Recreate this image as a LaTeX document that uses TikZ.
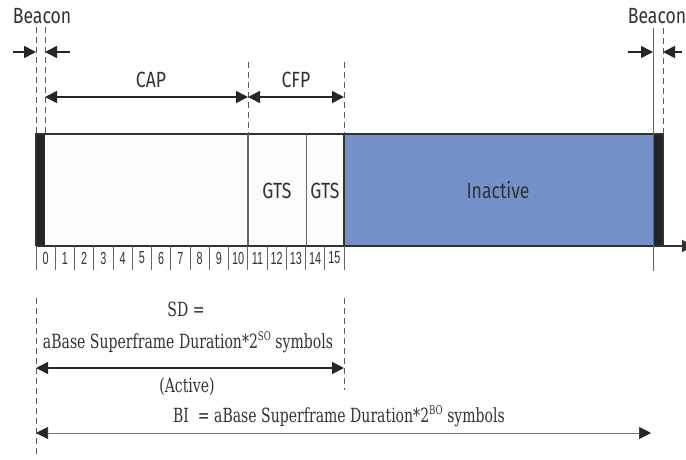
\documentclass[tikz,border=0pt]{standalone}
\usepackage{fontspec}
\usetikzlibrary{arrows.meta}

\newfontfamily\lblfont[FakeStretch=0.8]{Fira Sans}
\newfontfamily\numfont[FakeStretch=0.62]{Liberation Sans}
\newfontfamily\eqfont[FakeStretch=0.72]{DejaVu Serif}
\newcommand{\supsmall}[1]{\raisebox{0.8ex}{\fontsize{12}{12}\selectfont #1}}

\definecolor{inactblue}{RGB}{116,144,200}
\definecolor{bcnblack}{RGB}{38,38,38}
\definecolor{inkgray}{RGB}{50,50,50}

\tikzset{
  lbl/.style={font=\lblfont\fontsize{22}{22}\selectfont, text=inkgray, inner sep=0pt},
  slotnum/.style={font=\numfont\fontsize{17.5}{17.5}\selectfont, text=inkgray, inner sep=0pt},
  eqtext/.style={font=\eqfont\fontsize{19.5}{19.5}\selectfont, text=inkgray, inner sep=0pt},
  guide/.style={dashed, dash pattern=on 6pt off 4pt, line width=0.8pt, black!65},
  dimarrow/.style={line width=1.6pt, bcnblack, {Triangle[length=12pt,width=12pt]}-{Triangle[length=12pt,width=12pt]}},
  onearrow/.style={line width=1.6pt, bcnblack, -{Triangle[length=12pt,width=12pt]}},
  thinarrow/.style={line width=0.7pt, black!55, {Triangle[length=12pt,width=12pt,color=bcnblack]}-{Triangle[length=12pt,width=12pt,color=bcnblack]}},
  boxline/.style={line width=1.3pt, inkgray},
}

\begin{document}
\begin{tikzpicture}[x=1pt, y=-1pt]
    \useasboundingbox (0,0) rectangle (686,459);

    % Superframe box
    \fill[black!1] (45,134) rectangle (344,246);
    \fill[inactblue] (344,134) rectangle (653,246);
    \fill[bcnblack] (36,134) rectangle (45,246);
    \fill[bcnblack] (653,134) rectangle (663,246);
    \draw[boxline] (36,246) -- (36,134) -- (663,134) -- (663,246);
    \draw[boxline] (344,134) -- (344,246);
    \draw[line width=1.4pt, black!60] (248,134) -- (248,246);
    \draw[line width=1pt, black!60] (306,134) -- (306,246);
    \draw[boxline, -{Triangle[length=12pt,width=12pt]}] (36,246) -- (694,246);

    % Slot ticks
    \foreach \i in {0,...,16}
        \draw[line width=0.8pt, black!60] (36+19.25*\i,246) -- (36+19.25*\i,270);
    \draw[line width=0.8pt, black!60] (653,28) -- (653,271);

    % Guide lines
    \draw[guide] (36,27) -- (36,134);
    \draw[guide] (45,27) -- (45,134);
    \draw[guide] (248,62) -- (248,134);
    \draw[guide] (344,62) -- (344,134);
    \draw[guide] (663,28) -- (663,134);
    \draw[guide] (36,298) -- (36,454);
    \draw[guide] (344,298) -- (344,390);

    % Labels
    \node[lbl] (bcnL) at (42,16) {Beacon};
    \node[lbl] (bcnR) at (657,16) {Beacon};
    \node[lbl] (cap) at (151,80) {CAP};
    \node[lbl] (cfp) at (296,80) {CFP};
    \node[lbl] (gtsA) at (277,191) {GTS};
    \node[lbl] (gtsB) at (325,191) {GTS};
    \node[lbl] (inact) at (498,190) {Inactive};

    % Slot numbers
    \node[slotnum] (n0) at (45.6,258) {0};
    \node[slotnum] (n1) at (64.9,258) {1};
    \node[slotnum] (n2) at (84.1,258) {2};
    \node[slotnum] (n3) at (103.4,258) {3};
    \node[slotnum] (n4) at (122.6,258) {4};
    \node[slotnum] (n5) at (141.9,258) {5};
    \node[slotnum] (n6) at (161.1,258) {6};
    \node[slotnum] (n7) at (180.4,258) {7};
    \node[slotnum] (n8) at (199.6,258) {8};
    \node[slotnum] (n9) at (218.9,258) {9};
    \node[slotnum] (n10) at (238.1,258) {10};
    \node[slotnum] (n11) at (257.4,258) {11};
    \node[slotnum] (n12) at (276.6,258) {12};
    \node[slotnum] (n13) at (295.9,258) {13};
    \node[slotnum] (n14) at (315.1,258) {14};
    \node[slotnum] (n15) at (334.4,258) {15};

    % Duration texts
    \node[eqtext] (sd) at (186,309) {SD =};
    \node[eqtext] (sdeq) at (188,342) {aBase Superframe Duration*2\supsmall{SO} symbols};
    \node[eqtext] (active) at (187,387) {(Active)};
    \node[eqtext] (bi) at (339,416) {BI~ = aBase Superframe Duration*2\supsmall{BO} symbols};

    % Arrow ends
    \coordinate (bcnLa) at (13,52);
    \coordinate (bcnLb) at (36,52);
    \coordinate (bcnLc) at (70,52);
    \coordinate (bcnLd) at (45,52);
    \coordinate (bcnRa) at (628,52);
    \coordinate (bcnRb) at (653,52);
    \coordinate (bcnRc) at (682,52);
    \coordinate (bcnRd) at (663,52);
    \coordinate (capL) at (45,97);
    \coordinate (capR) at (248,97);
    \coordinate (cfpR) at (344,97);
    \coordinate (sdL) at (36,368);
    \coordinate (sdR) at (344,368);
    \coordinate (biL) at (36,433);
    \coordinate (biR) at (651,433);

    % Arrows
    \draw[onearrow] (bcnLa) -- (bcnLb);
    \draw[onearrow] (bcnLc) -- (bcnLd);
    \draw[onearrow] (bcnRa) -- (bcnRb);
    \draw[onearrow] (bcnRc) -- (bcnRd);
    \draw[dimarrow] (capL) -- (capR);
    \draw[dimarrow] (capR) -- (cfpR);
    \draw[dimarrow] (sdL) -- (sdR);
    \draw[thinarrow] (biL) -- (biR);
\end{tikzpicture}
\end{document}
